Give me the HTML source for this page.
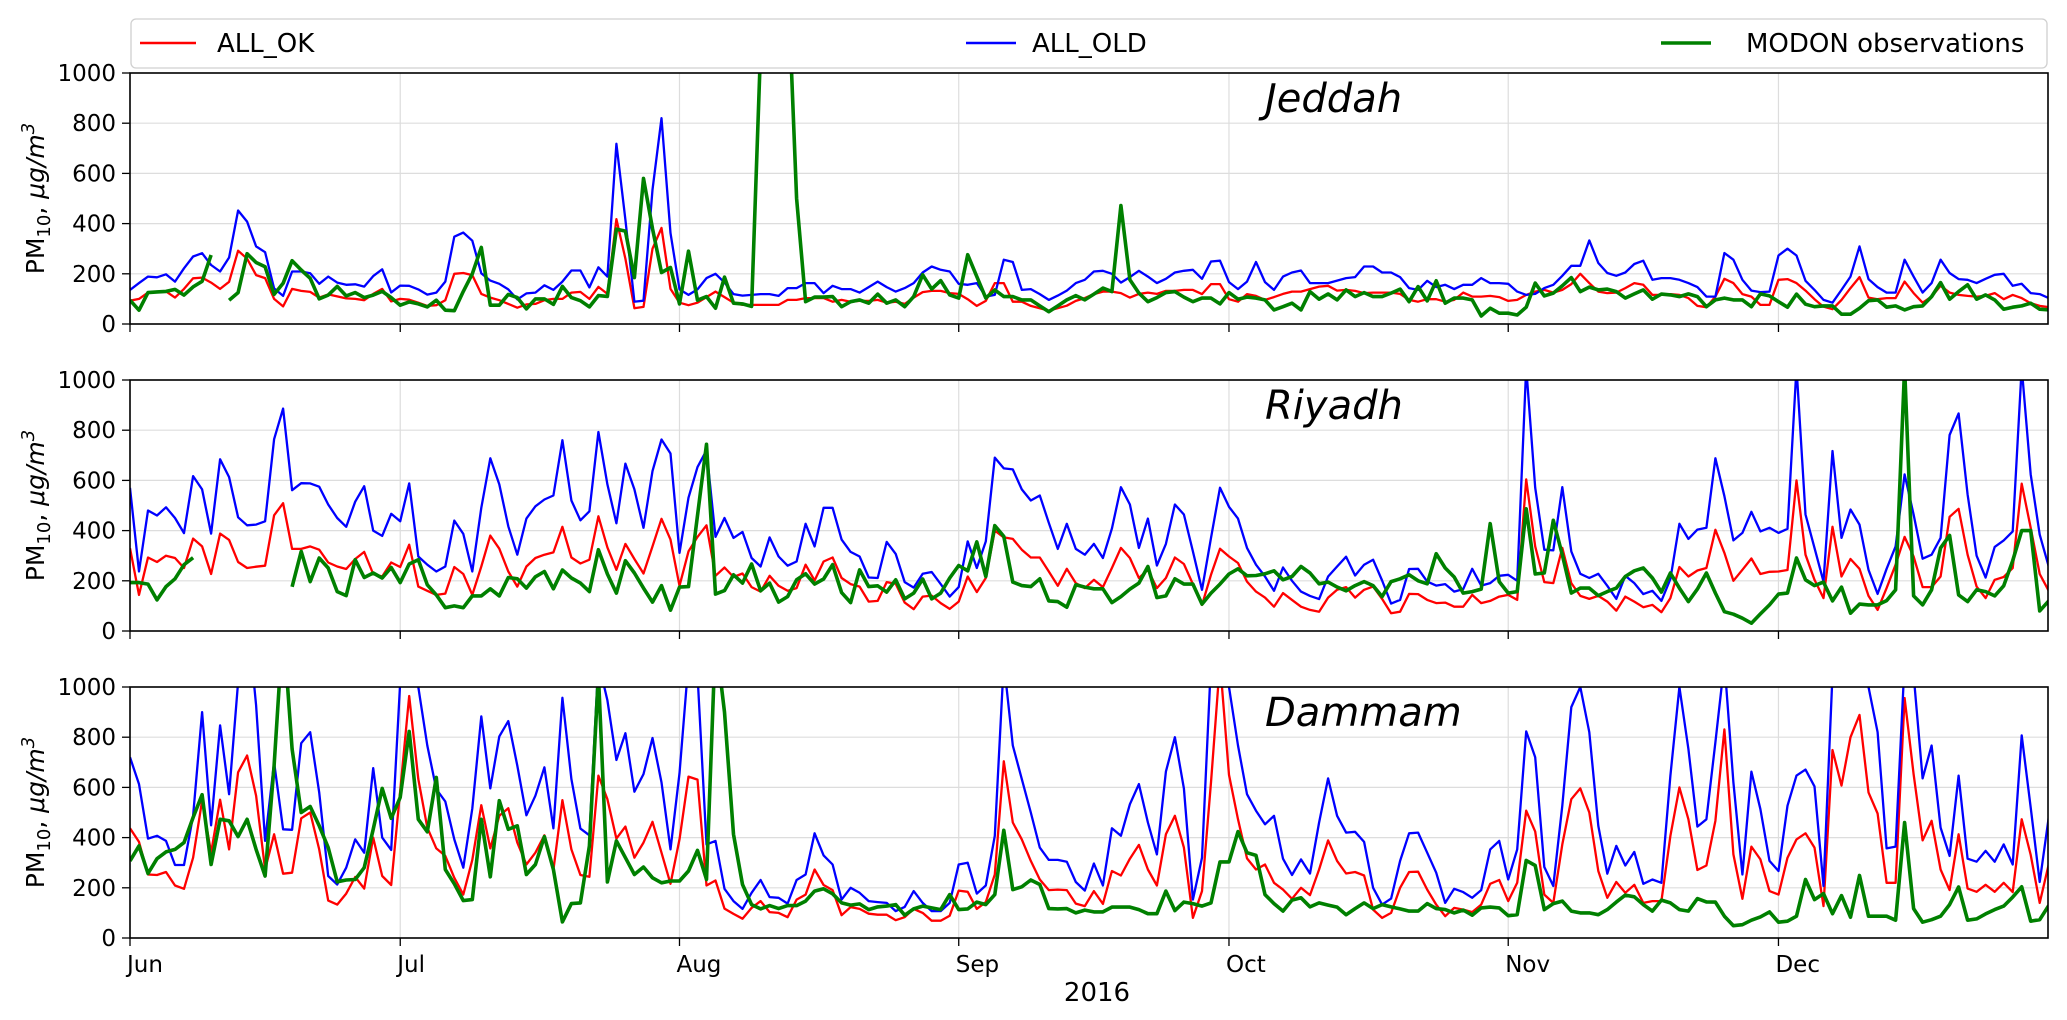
<!DOCTYPE html>
<html><head><meta charset="utf-8">
<style>
html,body{margin:0;padding:0;background:#fff;}
svg{display:block;font-family:"DejaVu Sans","Liberation Sans",sans-serif;}
</style></head>
<body>
<svg id="chart" width="2067" height="1020" viewBox="0 0 2067 1020" xmlns="http://www.w3.org/2000/svg">
  <rect x="0" y="0" width="2067" height="1020" fill="#fff"/>
  <g id="legend">
    <rect x="131" y="19" width="1916" height="49" rx="5" fill="#fff" stroke="#d0d0d0" stroke-width="1.3"/>
    <g>
      <line x1="140" y1="43" x2="196" y2="43" stroke="#ff0000" stroke-width="2.4"/>
      <text x="217" y="52" font-size="26">ALL_OK</text>
    </g>
    <g>
      <line x1="966" y1="43" x2="1016" y2="43" stroke="#0000ff" stroke-width="2.4"/>
      <text x="1032" y="52" font-size="26">ALL_OLD</text>
    </g>
    <g>
      <line x1="1661" y1="43" x2="1711" y2="43" stroke="#008000" stroke-width="3.4"/>
      <text x="1746" y="52" font-size="26">MODON observations</text>
    </g>
  </g>
  <text x="1097" y="1001" font-size="26" text-anchor="middle">2016</text>
  <g id="panels"></g>
</svg>
<script>
// ---- shared axis data ----
const monthLabels = ["Jun","Jul","Aug","Sep","Oct","Nov","Dec"];
const monthStartDays = [0,30,61,92,122,153,183];
const yTicks = [0,200,400,600,800,1000];
const cityNames = ["Jeddah","Riyadh","Dammam"];

// ---- Jeddah ----
const jeddahOk = [93,100,125,128,130,105,140,182,185,165,140,168,292,260,195,183,100,70,140,132,128,105,118,110,102,100,95,120,140,90,100,97,85,72,75,95,200,203,195,120,105,95,80,65,78,80,95,100,100,125,128,100,148,120,418,260,63,68,300,383,140,85,75,85,
107,129,107,85,76,76,76,76,76,96,96,103,103,103,89,96,89,92,92,96,85,89,80,105,127,132,132,123,120,99,72,92,163,163,89,89,72,63,53,63,73,92,103,119,129,129,123,105,120,125,120,132,132,136,136,119,159,159,99,89,119,112,96,107,120,129,129,139,149,152,133,136,132,123,125,125,125,120,96,89,99,99,89,96,125,109,109,112,107,92,96,116,129,136,125,136,159,200,163,129,123,125,143,163,156,116,116,119,116,103,72,67,109,180,163,119,109,76,76,176,179,163,133,99,69,59,96,143,187,105,99,103,103,169,123,85,109,152,125,116,112,109,112,123,99,116,103,83,72,67];
const jeddahOld = [136,163,189,186,198,169,222,269,282,235,209,265,452,408,309,286,142,112,209,209,202,160,189,165,156,158,149,191,218,126,153,152,138,117,125,169,348,364,332,202,173,160,138,98,122,125,154,136,169,213,213,146,226,189,718,415,89,93,535,820,362,138,116,138,
183,200,165,119,113,116,119,119,112,143,143,163,163,123,152,139,139,125,147,169,147,129,143,163,205,229,216,209,160,156,163,109,116,256,247,136,139,119,96,113,133,163,176,209,212,200,165,187,212,189,163,180,205,212,216,180,249,252,167,139,169,247,167,136,189,205,213,163,163,163,173,183,187,229,229,205,205,187,143,136,172,147,156,139,156,156,183,163,163,160,129,116,120,143,156,192,232,232,333,243,203,192,205,239,252,176,183,183,176,163,147,109,109,283,256,176,133,127,129,273,300,273,172,136,96,85,136,189,309,179,147,125,125,256,189,125,163,256,203,179,176,163,180,196,200,152,160,123,119,103];
const jeddahObs = [95,55,125,128,130,138,115,148,170,275,null,95,125,280,245,228,118,162,252,215,182,100,115,150,112,125,105,115,130,105,75,88,80,68,95,55,53,130,200,305,75,75,118,105,60,100,100,78,150,105,93,68,113,110,378,370,185,580,380,205,225,80,290,95,109,63,187,83,80,70,1100,1800,1800,1400,500,
89,107,107,109,69,89,96,83,119,83,96,69,109,196,139,173,116,103,276,189,103,136,109,109,96,96,72,49,72,96,113,96,119,143,129,472,176,123,89,105,125,129,107,89,103,103,80,125,99,107,103,96,56,69,83,56,129,99,120,96,136,109,125,109,109,123,139,89,149,92,172,83,103,103,96,32,63,43,43,36,67,163,112,123,152,185,129,147,136,139,129,103,120,136,99,119,116,109,120,109,69,96,103,96,96,69,120,112,89,67,119,79,69,72,72,39,39,63,93,96,67,72,56,69,72,109,165,99,129,156,99,116,96,59,67,72,83,59,56];

// ---- Riyadh ----
const riyadhOk = [330,144,293,275,300,291,251,368,337,227,388,363,275,251,256,260,461,509,327,327,337,324,273,257,247,287,315,227,217,273,255,344,177,160,144,149,255,227,144,257,380,328,237,177,257,291,304,313,415,293,269,284,457,333,244,347,287,229,337,447,364,180,317,375,421,220,253,215,229,175,157,220,180,
160,171,264,201,277,293,211,187,177,117,120,195,188,113,87,137,141,111,88,117,217,155,211,400,373,367,324,293,293,237,180,248,191,171,204,175,251,331,291,211,244,171,211,293,267,187,104,224,328,297,271,197,157,133,97,151,124,97,84,77,133,164,175,133,164,177,128,71,77,148,147,
124,111,113,97,97,144,111,120,137,144,124,604,337,195,191,331,191,140,128,140,117,81,137,117,95,104,75,131,255,217,241,251,403,311,200,244,289,227,236,237,243,600,304,204,131,415,217,287,248,140,84,171,264,375,297,175,175,217,455,487,304,177,131,204,215,251,587,411,227,160];
const riyadhOld = [570,237,480,460,493,450,390,617,564,388,684,613,453,421,424,437,764,886,561,589,588,575,504,450,415,515,577,400,379,467,437,588,297,264,237,257,440,387,237,491,688,584,417,304,448,497,524,540,760,520,441,477,793,584,429,667,564,411,637,763,707,311,531,653,720,375,450,371,395,291,257,373,297,
260,277,427,337,491,491,364,315,297,213,211,355,307,195,173,228,235,187,137,175,357,251,357,691,648,644,564,520,540,431,327,427,327,304,347,291,408,573,504,331,448,261,347,504,464,317,164,371,571,495,448,331,264,217,160,253,200,157,140,127,217,257,296,221,264,284,201,109,124,247,248,
197,181,187,157,167,248,181,191,220,224,200,1050,571,324,321,573,317,228,211,228,180,128,220,191,147,160,120,207,427,367,404,411,688,537,361,391,475,397,411,391,407,1050,464,331,197,717,371,484,424,244,148,248,337,624,464,288,304,371,781,867,544,300,213,335,361,397,1050,624,384,257];
const riyadhObs = [193,193,187,124,177,208,264,292,null,null,null,null,null,null,null,null,null,null,176,317,197,291,251,157,141,284,213,231,211,253,193,267,284,184,144,93,100,93,140,140,168,140,213,208,171,216,237,168,243,211,191,157,324,227,151,280,231,171,115,181,83,175,177,460,744,147,161,224,191,267,160,191,115,
137,204,228,187,207,264,153,113,244,177,180,155,204,128,151,207,128,151,211,261,240,355,217,420,377,195,181,177,208,120,117,95,184,175,168,168,113,137,167,191,257,133,140,208,187,187,107,151,187,227,248,220,221,228,240,204,217,257,231,188,195,175,160,181,197,181,137,197,208,224,200,
188,308,251,215,151,157,167,428,197,151,157,487,227,231,441,304,151,171,171,141,157,171,217,240,251,211,155,231,171,117,167,231,151,77,67,51,31,68,104,147,151,291,204,181,195,120,175,71,107,104,104,121,164,1050,140,104,164,331,381,144,117,164,157,140,180,280,400,400,80,120];

// ---- Dammam ----
const dammamOk = [437,383,253,251,263,209,196,320,547,340,551,353,660,727,567,273,413,256,260,477,500,353,149,133,177,243,197,400,247,211,587,964,633,440,357,327,240,173,311,529,357,487,517,380,293,340,409,271,549,353,251,244,647,553,396,444,320,380,463,340,216,393,643,631,209,229,117,96,77,120,147,103,100,
83,153,173,273,211,191,91,123,116,97,93,93,71,83,116,100,69,69,89,189,184,116,143,253,704,460,393,307,233,191,193,191,137,127,187,136,267,249,316,371,273,209,413,487,360,80,187,620,1100,650,473,317,273,293,220,193,156,200,171,273,389,307,257,263,249,113,80,100,200,263,264,
193,133,87,120,113,103,133,216,231,147,220,507,424,173,140,373,553,596,500,267,160,223,180,212,140,147,147,407,600,473,271,289,467,831,333,156,364,313,187,173,320,393,417,360,127,749,607,800,889,580,496,220,220,956,653,389,467,273,191,413,197,184,212,184,220,183,473,331,140,293];
const dammamOld = [720,613,396,407,387,291,291,487,900,449,847,573,1020,1300,927,387,700,433,431,776,820,580,247,213,280,393,340,677,400,351,1020,1300,1000,767,593,544,393,280,516,883,596,803,864,687,489,567,680,437,957,633,436,409,1100,947,709,816,583,653,797,620,353,656,1100,1050,373,387,196,147,116,180,231,163,160,
137,231,253,417,329,293,153,200,180,147,143,140,107,124,187,140,107,107,140,293,300,177,209,407,1100,767,633,500,360,311,311,304,223,189,297,209,437,407,533,613,460,333,663,800,596,153,320,1100,1150,1000,767,573,507,453,487,316,251,313,257,460,636,487,420,423,383,200,133,157,307,417,420,
340,260,140,196,183,160,191,353,387,233,353,823,720,283,207,527,920,1000,820,447,256,367,289,343,216,233,220,647,1000,753,444,473,780,1100,620,253,663,513,307,267,527,647,671,604,207,1050,1150,1200,1100,1000,820,357,364,1100,1050,636,767,440,327,647,316,304,347,304,373,293,807,520,223,480];
const dammamObs = [307,367,257,316,343,353,380,480,571,293,473,467,404,473,353,247,687,1250,753,500,524,447,360,224,231,233,280,433,596,477,560,823,473,423,640,273,216,149,153,473,244,547,433,447,253,293,404,273,64,137,140,367,1050,223,387,320,253,283,240,220,227,227,267,349,233,1200,900,413,213,133,116,129,117,
129,129,147,187,196,176,140,131,136,113,124,127,133,91,116,127,120,113,173,113,116,143,133,173,429,193,204,231,213,117,116,117,100,111,104,104,123,123,123,113,97,97,187,109,143,137,127,140,303,303,424,340,329,173,137,107,151,160,124,140,131,123,93,117,140,117,133,124,116,107,107,
137,117,113,100,111,91,120,123,120,89,93,309,289,113,137,147,107,100,100,93,113,143,171,164,133,107,151,140,113,107,157,144,143,87,49,53,71,84,104,63,67,87,233,153,177,97,169,83,249,87,87,87,71,460,117,63,73,87,133,203,71,76,96,113,127,163,204,67,73,129];

const NS = "http://www.w3.org/2000/svg";
const plotLeft = 130, plotRight = 2048, pxPerDay = 9.008;
const panelTops = [73, 380, 687], panelH = 251, yMax = 1000;
function xScale(d){ return plotLeft + d * pxPerDay; }
function yScale(v, top){ return top + panelH - (v / yMax) * panelH; }
function mk(tag, attrs){ const e = document.createElementNS(NS, tag); for (const k in attrs) e.setAttribute(k, attrs[k]); return e; }

const panelsData = [
  {ok: jeddahOk, old: jeddahOld, obs: jeddahObs},
  {ok: riyadhOk, old: riyadhOld, obs: riyadhObs},
  {ok: dammamOk, old: dammamOld, obs: dammamObs}
];
const seriesStyle = [
  {key: "ok", color: "#ff0000", w: 2.3},
  {key: "old", color: "#0000ff", w: 2.3},
  {key: "obs", color: "#008000", w: 3.6}
];
const root = document.getElementById("panels");
const defs = mk("defs", {});
root.appendChild(defs);

panelsData.forEach(function(pd, pi){
  const top = panelTops[pi], bottom = top + panelH;
  const g = mk("g", {});
  
  
  root.appendChild(g);
  const cp = mk("clipPath", {id: "clip" + pi});
  cp.appendChild(mk("rect", {x: plotLeft, y: top, width: plotRight - plotLeft, height: panelH}));
  defs.appendChild(cp);
  yTicks.forEach(function(t){
    const yy = yScale(t, top);
    const gl = mk("line", {x1: plotLeft, x2: plotRight, y1: yy, y2: yy, stroke: "#dddddd", "stroke-width": 1.2});
    
    
    g.appendChild(gl);
    const tk = mk("line", {x1: plotLeft - 8, x2: plotLeft, y1: yy, y2: yy, stroke: "#000", "stroke-width": 1.3});
    
    
    g.appendChild(tk);
    const tl = mk("text", {x: plotLeft - 14, y: yy + 8, "font-size": 23, "text-anchor": "end"});
    tl.textContent = String(t);
    
    
    g.appendChild(tl);
  });
  monthStartDays.forEach(function(d, mi){
    const xx = xScale(d);
    const gl = mk("line", {x1: xx, x2: xx, y1: top, y2: bottom, stroke: "#dddddd", "stroke-width": 1.2});
    
    
    g.appendChild(gl);
    const tk = mk("line", {x1: xx, x2: xx, y1: bottom, y2: bottom + 8, stroke: "#000", "stroke-width": 1.3});
    
    
    g.appendChild(tk);
    if (pi === 2) {
      const tl = mk("text", {x: xx - 3, y: bottom + 34, "font-size": 23});
      tl.textContent = monthLabels[mi];
      
      
      g.appendChild(tl);
    }
  });
  const sg = mk("g", {"clip-path": "url(#clip" + pi + ")"});
  g.appendChild(sg);
  seriesStyle.forEach(function(s){
    const vals = pd[s.key];
    let dstr = "", pen = false;
    for (let i = 0; i < vals.length; i++) {
      const v = vals[i];
      if (v === null) { pen = false; continue; }
      dstr += (pen ? "L" : "M") + xScale(i).toFixed(1) + " " + yScale(v, top).toFixed(1);
      pen = true;
    }
    const p = mk("path", {d: dstr, fill: "none", stroke: s.color, "stroke-width": s.w, "stroke-linejoin": "round"});
    
    
    sg.appendChild(p);
  });
  const fr = mk("rect", {x: plotLeft, y: top, width: plotRight - plotLeft, height: panelH, fill: "none", stroke: "#000", "stroke-width": 1.6});
  
  
  g.appendChild(fr);
  const tt = mk("text", {x: 1265, y: top + 39, "font-size": 40, "font-style": "italic"});
  tt.textContent = cityNames[pi];
  
  
  g.appendChild(tt);
  const cy = top + panelH / 2;
  const yl = mk("text", {x: 0, y: 0, "font-size": 25, "text-anchor": "middle", transform: "translate(44 " + cy + ") rotate(-90)"});
  yl.innerHTML = 'PM<tspan font-size="18" dy="6">10</tspan><tspan dy="-6">, </tspan><tspan font-style="italic">μg/m</tspan><tspan font-size="18" dy="-10" font-style="italic">3</tspan>';
  
  
  g.appendChild(yl);
});
</script>
</body></html>
